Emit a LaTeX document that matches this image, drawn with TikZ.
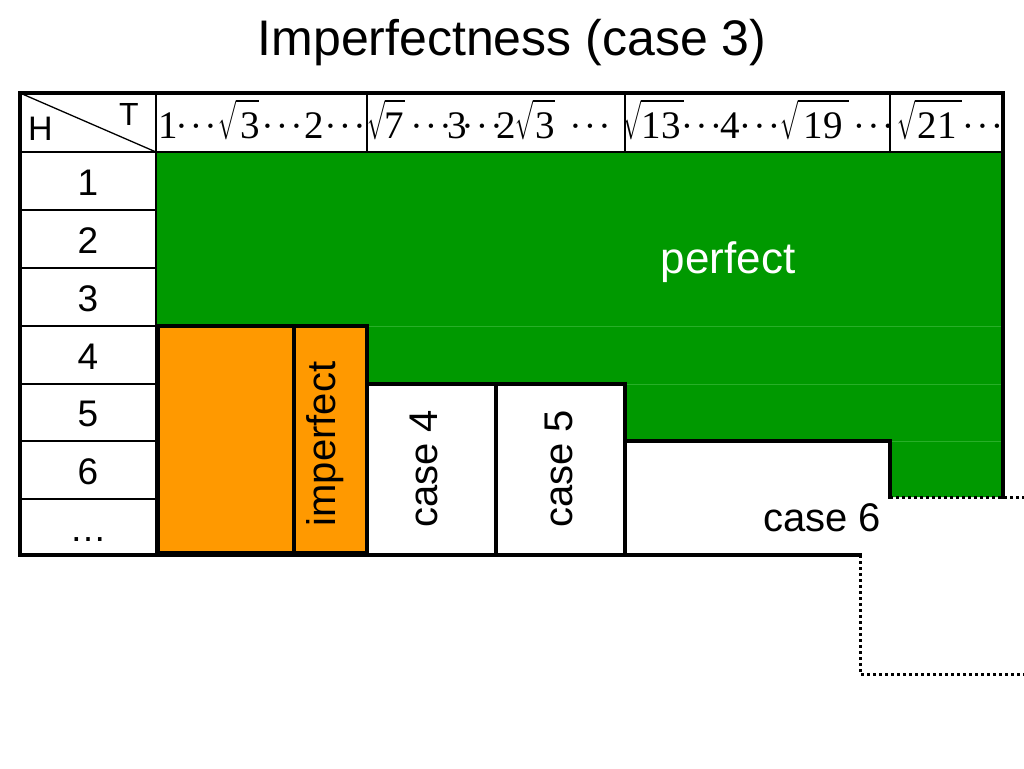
\RequirePackage{fix-cm}
\documentclass[tikz,border=0pt]{standalone}
\usepackage{fontspec}
\setmainfont{Liberation Sans}
\newfontfamily\tmsfont{Liberation Serif}
\definecolor{grn}{RGB}{0,153,0}
\definecolor{grnline}{RGB}{40,175,40}
\definecolor{org}{RGB}{255,153,0}
\tikzset{
  thin line/.style={line width=1.3pt, black},
  thick line/.style={line width=3.2pt, black, line cap=rect},
  dotline/.style={line width=3pt, black, dash pattern=on 3pt off 3pt},
  lbl/.style={inner sep=0pt, font=\fontsize{37}{40}\selectfont},
  hnum/.style={inner sep=0pt, anchor=base, font=\tmsfont\fontsize{39}{42}\selectfont},
  hdots/.style={inner sep=0pt, anchor=base, font=\tmsfont\fontsize{37}{42}\selectfont},
  hrad/.style={inner sep=0pt, anchor=base west},
  vtext/.style={inner sep=0pt, rotate=90, anchor=base, font=\fontsize{40}{44}\selectfont},
}
% radical sign with a bar of given (unscaled) length
\newcommand\hdrsq[1]{\scalebox{0.55}[1]{\fontsize{39}{39}\selectfont$\sqrt{\hbox to #1pt{\vrule width 0pt height 34pt\hfil}}$}}
\newcommand\hdrdots{·\kern2.2pt·\kern2.2pt·}
\begin{document}
\begin{tikzpicture}[x=1pt,y=-1pt]
\useasboundingbox (0,0) rectangle (1024,768);
\fill[white] (0,0) rectangle (1024,768);
% green region
\fill[grn] (156,152) -- (1003,152) -- (1003,497) -- (890,497) -- (890,441) -- (625,441) -- (625,384) -- (367,384) -- (367,326) -- (156,326) -- cycle;
\draw[grnline, line width=0.8pt] (156,326) -- (1003,326) (625,384) -- (1003,384) (890,441) -- (1003,441);
% orange region
\fill[org] (158,326) rectangle (367,553);
% thin grid
\draw[thin line] (20,152) -- (1003,152);
\draw[thin line] (156,93) -- (156,556);
\draw[thin line] (367,93) -- (367,152) (625,93) -- (625,152) (890,93) -- (890,152);
\draw[thin line] (20,210) -- (156,210) (20,268) -- (156,268) (20,326) -- (156,326)
  (20,384) -- (156,384) (20,441) -- (156,441) (20,499) -- (156,499);
\draw[thin line] (20,93) -- (156,152);
% outer border
\draw[thick line] (20,555) -- (20,93) -- (1003,93) -- (1003,497);
\draw[thick line] (20,555) -- (860,555);
% boxes
\draw[thick line] (158,553) rectangle (367,326);
\draw[thick line] (294,326) -- (294,553);
\draw[thick line] (367,553) -- (367,384) -- (625,384) -- (625,441) -- (890,441) -- (890,497);
\draw[thick line] (496,384) -- (496,553) (625,441) -- (625,553);
% dotted
\draw[dotline] (890,497) -- (1024,497);
\draw[dotline] (860,555) -- (860,674) -- (1024,674);
% title
\node[inner sep=0pt, anchor=base, font=\fontsize{50}{56}\selectfont] (title) at (512,56) {Imperfectness (case 3)};
% header corner
\node[inner sep=0pt, anchor=base west, font=\fontsize{34}{38}\selectfont] (H) at (28,140) {H};
\node[inner sep=0pt, anchor=base west, font=\fontsize{32}{36}\selectfont] (T) at (119,125) {T};
% header column 1
\node[hnum] (a1) at (168,138) {1};
\node[hdots] (a2) at (196,138) {\hdrdots};
\node[hrad] (ra1) at (218,138) {\hdrsq{42}};
\node[hnum] (a3) at (250.5,138) {3};
\node[hdots] (a4) at (282,138) {\hdrdots};
\node[hnum] (a5) at (314.5,138) {2};
\node[hdots] (a6) at (345,138) {\hdrdots};
% header column 2
\node[hrad] (rb1) at (367,138) {\hdrsq{36.6}};
\node[hnum] (b1) at (394,138) {7};
\node[hdots] (b2) at (431,138) {\hdrdots};
\node[hnum] (b3) at (457,138) {3};
\node[hdots] (b4) at (482,138) {\hdrdots};
\node[hnum] (b5) at (506.5,138) {2};
\node[hrad] (rb2) at (515,138) {\hdrsq{40.2}};
\node[hnum] (b6) at (545.5,138) {3};
\node[hdots] (b7) at (590,138) {\hdrdots};
% header column 3
\node[hrad] (rc1) at (623,138) {\hdrsq{78.4}};
\node[hnum] (c1) at (661,138) {1\kern1pt3};
\node[hdots] (c2) at (701.5,138) {\hdrdots};
\node[hnum] (c3) at (730,138) {4};
\node[hdots] (c4) at (759.5,138) {\hdrdots};
\node[hrad] (rc2) at (780,138) {\hdrsq{92.9}};
\node[hnum] (c5) at (823.5,138) {1\kern1pt9};
\node[hdots] (c6) at (873.5,138) {\hdrdots};
% header column 4
\node[hrad] (rd1) at (897,138) {\hdrsq{85.7}};
\node[hnum] (d1) at (937.5,138) {2\kern1pt1};
\node[hdots] (d2) at (982.5,138) {\hdrdots};
% row labels
\node[lbl, anchor=base] (r1) at (88,195) {1};
\node[lbl, anchor=base] (r2) at (88,253) {2};
\node[lbl, anchor=base] (r3) at (88,311) {3};
\node[lbl, anchor=base] (r4) at (88,369) {4};
\node[lbl, anchor=base] (r5) at (88,426) {5};
\node[lbl, anchor=base] (r6) at (88,484) {6};
\node[lbl, anchor=base] (r7) at (88,541) {…};
% labels
\node[inner sep=0pt, anchor=base, text=white, font=\fontsize{44}{48}\selectfont] (perfect) at (728,273) {perfect};
\node[vtext] (imp) at (335,444) {imperfect};
\node[vtext] (case4) at (437,469) {case 4};
\node[vtext] (case5) at (572,469) {case 5};
\node[inner sep=0pt, anchor=base, font=\fontsize{40}{44}\selectfont] (case6) at (822,531) {case 6};
\end{tikzpicture}
\end{document}
